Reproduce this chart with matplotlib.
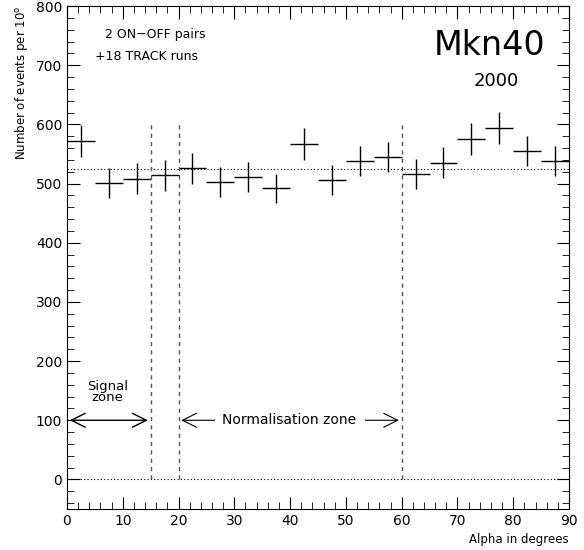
import numpy as np
import matplotlib.pyplot as plt
from matplotlib.ticker import MultipleLocator

# alpha bin centres and counts
alpha = [2.5, 7.5, 12.5, 17.5, 22.5, 27.5, 32.5, 37.5, 42.5,
         47.5, 52.5, 57.5, 62.5, 67.5, 72.5, 77.5, 82.5, 87.5]
counts = [572, 501, 508, 514, 526, 503, 511, 492, 567,
          506, 538, 545, 516, 535, 575, 594, 555, 538]
errors = [27, 25, 26, 26, 26, 25, 26, 25, 27,
          25, 26, 26, 26, 26, 27, 27, 26, 26]
bin_half = 2.5
norm_level = 524
zone_edges = [15, 20, 60]

fig = plt.figure(figsize=(5.84, 5.5), dpi=100)
ax = fig.add_axes([0.1147, 0.0745, 0.8596, 0.9145])

ax.errorbar(alpha, counts, xerr=bin_half, yerr=errors, fmt='none',
            ecolor='black', elinewidth=1.0, capsize=0)

ax.axhline(norm_level, color='black', linestyle=(0, (1, 2)), linewidth=0.8)
ax.axhline(0, color='black', linestyle=(0, (1, 2)), linewidth=0.8)
for xe in zone_edges:
    ax.plot([xe, xe], [0, 600], color='#555555', linestyle=(0, (3, 3)), linewidth=1.0)

ax.set_xlim(0, 90)
ax.set_ylim(-50, 800)
ax.xaxis.set_major_locator(MultipleLocator(10))
ax.xaxis.set_minor_locator(MultipleLocator(2))
ax.yaxis.set_major_locator(MultipleLocator(100))
ax.yaxis.set_minor_locator(MultipleLocator(20))
ax.tick_params(which='both', direction='in', top=True, right=True, labelsize=10)
ax.tick_params(which='major', length=9)
ax.tick_params(which='minor', length=5)

ax.set_ylabel('Number of events per 10$^{\\rm o}$', fontsize=8.5, loc='top')
ax.set_xlabel('Alpha in degrees', fontsize=8.5, loc='right')

ax.text(6.8, 746, '2 ON\u2212OFF pairs', fontsize=9)
ax.text(5, 709, '+18 TRACK runs', fontsize=9)
ax.text(85.8, 718, 'Mkn40', fontsize=24, ha='right')
ax.text(81, 665, '2000', fontsize=13, ha='right')

arrow = dict(arrowstyle='<->', color='black', linewidth=1.0, mutation_scale=25)
ax.annotate('', xy=(0, 100), xytext=(15, 100), arrowprops=arrow)
ax.text(7.3, 147, 'Signal\nzone', fontsize=9.5, ha='center', va='center', linespacing=0.8)

one_way = dict(arrowstyle='->', color='black', linewidth=0.8, mutation_scale=25)
ax.annotate('', xy=(20, 100), xytext=(27, 100), arrowprops=one_way)
ax.annotate('', xy=(60, 100), xytext=(53, 100), arrowprops=one_way)
ax.text(39.9, 100, 'Normalisation zone', fontsize=10, ha='center', va='center')

fig.savefig('out.png', dpi=100)
